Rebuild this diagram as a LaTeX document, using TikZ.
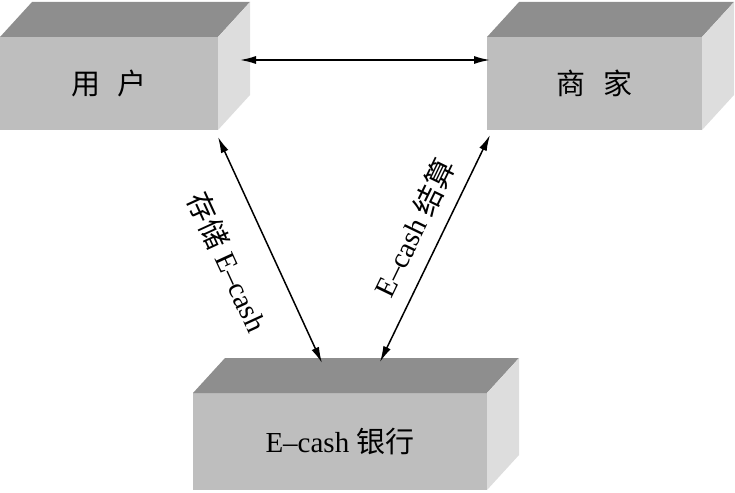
\documentclass[tikz,border=0pt]{standalone}
\usepackage{fontspec}
\setmainfont{Liberation Serif}
\newfontfamily\cjk{Noto Sans CJK SC}
\usetikzlibrary{arrows.meta,calc}
\definecolor{frontgray}{HTML}{BEBEBE}
\definecolor{topgray}{HTML}{8E8E8E}
\definecolor{sidegray}{HTML}{DDDDDD}
\tikzset{
  boxfront/.style={fill=frontgray, draw=none, outer sep=0pt, inner sep=0pt,
    font=\fontsize{29}{34}\selectfont},
  boxtop/.style={fill=topgray, draw=none},
  boxside/.style={fill=sidegray, draw=none},
  conn/.style={{Latex[length=16pt,width=8pt]}-{Latex[length=16pt,width=8pt]}, line width=1.5pt, black},
  lbl/.style={font=\fontsize{29}{34}\selectfont, inner sep=0pt}
}
\newcommand{\depthbox}[1]{%
  \fill[boxtop] (#1.north west) -- ++(32,-35) -- ($(#1.north east)+(32,-35)$) -- (#1.north east) -- cycle;
  \fill[boxside] (#1.north east) -- ++(32,-35) -- ($(#1.south east)+(32,-35)$) -- (#1.south east) -- cycle;
}
\begin{document}
\begin{tikzpicture}[x=1pt,y=-1pt]
\useasboundingbox (0,0) rectangle (735,492);
\node[boxfront, minimum width=218pt, minimum height=93pt] (user) at (109,83.5) {{\cjk 用}\hspace{0.6em}{\cjk 户}};
\node[boxfront, minimum width=215pt, minimum height=93pt] (merchant) at (594.5,83.5) {{\cjk 商}\hspace{0.6em}{\cjk 家}};
\node[boxfront, minimum width=294pt, minimum height=97pt] (bank) at (340,441.5) {E--cash {\cjk 银行}};
\depthbox{user}
\depthbox{merchant}
\depthbox{bank}
\coordinate (um1) at ($(user.north east)+(22,23)$);
\coordinate (um2) at ($(merchant.north west)+(3,23)$);
\coordinate (ub1) at ($(user.south east)+(0,7)$);
\coordinate (ub2) at ($(bank.north west)+(129,-30)$);
\coordinate (mb1) at ($(merchant.south west)+(3,5)$);
\coordinate (mb2) at ($(bank.north west)+(187,-31)$);
\draw[conn] (um1) -- (um2);
\draw[conn] (ub1) -- (ub2);
\draw[conn] (mb2) -- (mb1);
\node[lbl, rotate=-65.3] (lblu) at (228,262) {{\cjk 存储} E--cash};
\node[lbl, rotate=64.1] (lblm) at (414,228) {E--cash {\cjk 结算}};
\end{tikzpicture}
\end{document}
